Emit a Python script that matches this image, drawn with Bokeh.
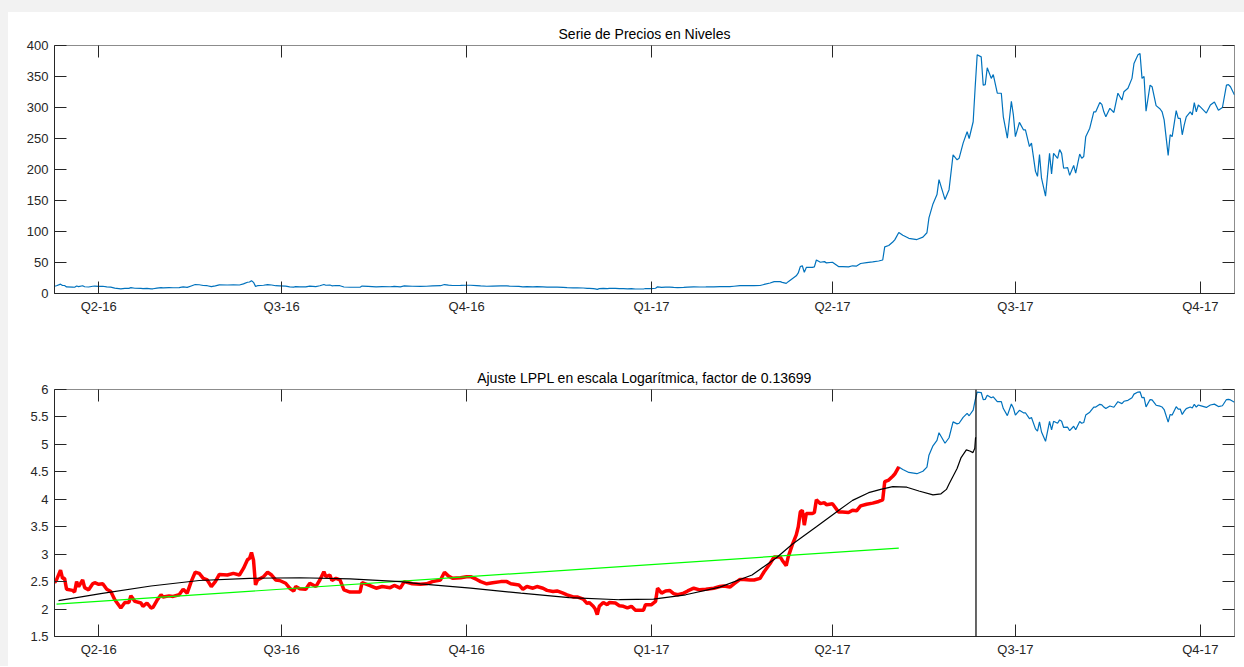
import numpy as np
import pandas as pd
from bokeh.plotting import figure
from bokeh.layouts import column
from bokeh.models import Range1d, FixedTicker, LinearAxis, Span, CustomJSTickFormatter
from bokeh.embed import file_html
from bokeh.resources import INLINE

BASE_DATE = "2016-04-01"   # day 0 of every *_days list below

# ---- fitted window: natural log of price (red) ----
fit_days = [-22, -21, -19, -18, -17, -16, -13, -12, -11, -10,
            -8, -7, -5, -3, -2, 0, 2, 4, 6, 8,
            11, 13, 15, 16, 18, 21, 22, 24, 26, 27,
            29, 31, 32, 35, 37, 40, 42, 44, 46, 48,
            50, 52, 54, 56, 58, 60, 64, 67, 70, 72,
            74, 75, 76, 77, 78, 79, 82, 84, 86, 88,
            90, 93, 95, 97, 98, 100, 103, 105, 108, 110,
            112, 113, 115, 116, 118, 120, 122, 125, 130, 131,
            134, 138, 141, 145, 147, 150, 152, 156, 160, 163,
            166, 170, 172, 174, 176, 180, 183, 185, 188, 190,
            193, 196, 200, 203, 205, 209, 211, 213, 216, 218,
            221, 223, 226, 228, 231, 233, 236, 238, 241, 243,
            244, 246, 247, 248, 249, 251, 253, 254, 257, 259,
            261, 263, 265, 267, 269, 271, 272, 275, 277, 278,
            280, 282, 284, 286, 288, 291, 293, 296, 299, 302,
            306, 309, 311, 314, 316, 319, 321, 324, 326, 329,
            331, 334, 336, 339, 340, 342, 343, 345, 347, 348,
            349, 350, 351, 352, 355, 356, 357, 359, 361, 362,
            365, 368, 370, 373, 375, 377, 379, 382, 385, 388,
            390, 391, 393, 395, 396, 398]
fit_logp = [2.48, 2.53, 2.71, 2.56, 2.56, 2.36, 2.34, 2.31, 2.50, 2.41,
            2.53, 2.39, 2.35, 2.46, 2.48, 2.45, 2.46, 2.36, 2.32, 2.17,
            2.02, 2.12, 2.12, 2.24, 2.14, 2.11, 2.05, 2.11, 2.02, 2.03,
            2.16, 2.26, 2.22, 2.24, 2.23, 2.26, 2.36, 2.29, 2.50, 2.67,
            2.65, 2.56, 2.53, 2.41, 2.50, 2.63, 2.62, 2.65, 2.62, 2.74,
            2.90, 2.92, 3.03, 2.89, 2.44, 2.53, 2.59, 2.67, 2.62, 2.53,
            2.52, 2.47, 2.38, 2.33, 2.41, 2.37, 2.36, 2.47, 2.41, 2.53,
            2.68, 2.59, 2.62, 2.52, 2.56, 2.53, 2.35, 2.31, 2.31, 2.48,
            2.44, 2.38, 2.41, 2.39, 2.43, 2.38, 2.50, 2.46, 2.45, 2.46,
            2.50, 2.53, 2.67, 2.60, 2.56, 2.57, 2.59, 2.59, 2.54, 2.50,
            2.46, 2.48, 2.50, 2.50, 2.46, 2.44, 2.36, 2.41, 2.38, 2.41,
            2.38, 2.34, 2.32, 2.33, 2.29, 2.26, 2.22, 2.22, 2.18, 2.10,
            2.12, 2.05, 2.00, 1.90, 2.05, 2.12, 2.08, 2.12, 2.11, 2.06,
            2.05, 2.02, 2.05, 1.98, 1.98, 1.98, 2.08, 2.08, 2.14, 2.38,
            2.29, 2.33, 2.34, 2.28, 2.26, 2.29, 2.33, 2.38, 2.35, 2.36,
            2.38, 2.41, 2.42, 2.40, 2.46, 2.54, 2.54, 2.53, 2.53, 2.56,
            2.68, 2.83, 2.95, 2.95, 2.89, 2.79, 2.95, 3.17, 3.35, 3.50,
            3.77, 3.80, 3.53, 3.74, 3.74, 3.76, 3.99, 3.92, 3.94, 3.90,
            3.92, 3.77, 3.77, 3.76, 3.80, 3.79, 3.88, 3.91, 3.93, 3.96,
            3.99, 4.32, 4.35, 4.42, 4.46, 4.59]

# ---- after the window: price level ----
late_days = [400, 403, 407, 410, 412, 413, 415, 417, 418, 421,
             423, 425, 427, 428, 430, 432, 433, 435, 436, 437,
             439, 440, 441, 442, 444, 445, 447, 449, 450, 452,
             454, 455, 456, 458, 460, 461, 463, 464, 466, 467,
             468, 469, 471, 473, 474, 475, 477, 478, 479, 480,
             482, 483, 485, 486, 488, 489, 490, 491, 493, 495,
             496, 498, 499, 500, 501, 503, 505, 507, 509, 510,
             512, 514, 515, 517, 518, 519, 520, 521, 523, 524,
             526, 528, 529, 530, 532, 533, 534, 536, 537, 538,
             539, 540, 541, 543, 544, 545, 546, 547, 548, 551,
             553, 555, 557, 559, 561, 562, 563, 565]
late_price = [94, 89, 87, 91, 98, 122, 144.5, 159.5, 183.6, 151.5,
              167.5, 223.7, 215.7, 218, 242.5, 261, 250, 277, 333, 385,
              381.7, 336, 337, 364, 347, 353, 323, 323, 285, 250.5,
              310, 288, 253, 276, 264, 264, 237, 242.5, 197, 189,
              224, 186, 157, 226, 193, 226, 218, 232, 226, 202,
              203, 190.5, 206.6, 194, 225, 218, 221, 253, 266.6, 293,
              293, 308, 305, 293, 285, 298.7, 292, 323, 312, 325.5,
              331, 347, 371, 385, 387, 347, 350, 294, 336, 333.5,
              303, 297.6, 293, 280, 222.7, 256, 253, 295, 282.6, 282.6,
              256, 272, 285, 293, 288, 308, 293, 304, 301, 291,
              304, 309, 295.5, 300, 336, 337, 333.5, 320]

# ---- LPPL fit (black) and linear trend (green), log scale ----
lppl_days = [-20, 1, 26, 50, 75, 100, 125, 150, 160, 185,
             210, 234, 259, 276, 292, 309, 325, 337, 345, 357,
             367, 375, 383, 389, 395, 402, 408, 415, 419, 421.7,
             423, 427, 429, 431.6, 433.3, 434.9, 435.8, 436.2]
lppl_vals = [2.155, 2.28, 2.42, 2.52, 2.56, 2.57, 2.55, 2.50, 2.46, 2.38,
             2.29, 2.21, 2.17, 2.18, 2.26, 2.40, 2.62, 2.93, 3.18, 3.50,
             3.77, 3.98, 4.12, 4.18, 4.23, 4.22, 4.15, 4.08, 4.10, 4.18,
             4.28, 4.56, 4.76, 4.90, 4.88, 4.85, 4.93, 5.13]
trend_days = [-21, 398]
trend_vals = [2.09, 3.11]
critical_day = 436.4

quarter_dates = ["2016-04-01", "2016-07-01", "2016-10-01", "2017-01-01",
                 "2017-04-01", "2017-07-01", "2017-10-01"]
quarter_labels = ["Q2-16", "Q3-16", "Q4-16", "Q1-17", "Q2-17", "Q3-17", "Q4-17"]
price_ticks = [0, 50, 100, 150, 200, 250, 300, 350, 400]
log_ticks = [1.5, 2, 2.5, 3, 3.5, 4, 4.5, 5, 5.5, 6]

title_top = "Serie de Precios en Niveles"
title_bottom = "Ajuste LPPL en escala Logarítmica, factor de 0.13699"

# ---------------------------------------------------------------
base_ms = pd.Timestamp(BASE_DATE).value / 1e6
def to_ms(days):
    return base_ms + np.asarray(days, dtype=float) * 86400000.0

fit_x = to_ms(fit_days)
late_x = to_ms(late_days)
all_x = np.concatenate([fit_x, late_x])
all_price = np.concatenate([np.exp(fit_logp), np.asarray(late_price, float)])
all_logp = np.log(all_price)

q_ms = [int(pd.Timestamp(d).value // 10**6) for d in quarter_dates]
q_over = {m: l for m, l in zip(q_ms, quarter_labels)}

FONT = "Liberation Sans"
DARK = "#262626"
BLUE = "#0072BD"

x_range = Range1d(all_x.min(), all_x.max())

def add_axes(p, yticks, yfmt):
    blank = CustomJSTickFormatter(code="return ''")
    specs = [("below", q_ms, q_over, True), ("left", yticks, yfmt, True),
             ("above", q_ms, None, False), ("right", yticks, None, False)]
    for loc, ticks, over, show in specs:
        ax = LinearAxis(ticker=FixedTicker(ticks=ticks, minor_ticks=[]))
        ax.major_tick_in = 12
        ax.major_tick_out = 0
        ax.minor_tick_in = 0
        ax.minor_tick_out = 0
        ax.major_tick_line_color = DARK
        ax.major_tick_line_width = 1
        if show:
            ax.major_label_overrides = over
            ax.major_label_text_font = FONT
            ax.major_label_text_font_size = "13px"
            ax.major_label_text_color = DARK
            ax.major_label_standoff = 5 if loc == "below" else 6
            ax.axis_line_color = DARK
        else:
            ax.formatter = blank
            ax.major_label_text_font_size = "0px"
            ax.major_label_standoff = 0
            ax.axis_line_color = None
        p.add_layout(ax, loc)

def make_fig(height, top, bottom, y_range, title, standoff):
    p = figure(width=1236, height=height, x_range=x_range, y_range=y_range,
               output_backend="svg", toolbar_location=None,
               x_axis_location=None, y_axis_location=None,
               min_border_left=46, min_border_right=10,
               min_border_top=top, min_border_bottom=bottom)
    p.xgrid.visible = False
    p.ygrid.visible = False
    p.title.text = title
    p.title.align = "center"
    p.title.text_font = FONT
    p.title.text_font_size = "14px"
    p.title.text_font_style = "normal"
    p.title.text_color = "black"
    p.title.standoff = standoff
    p.outline_line_color = "#8c8c8c"
    p.outline_line_width = 1
    p.background_fill_color = "white"
    p.border_fill_color = "white"
    return p

price_over = {t: str(t) for t in price_ticks}
log_over = {t: f"{t:g}" for t in log_ticks}

p1 = make_fig(340, 33, 59, Range1d(0, 400), title_top, 7)
add_axes(p1, price_ticks, price_over)
p1.line(all_x, all_price, line_color=BLUE, line_width=1.2)

p2 = make_fig(314, 37, 30, Range1d(1.5, 6), title_bottom, 8)
add_axes(p2, log_ticks, log_over)
p2.line(all_x, all_logp, line_color=BLUE, line_width=1.2)
p2.line(fit_x, fit_logp, line_color="#FF0000", line_width=3.5)
p2.line(to_ms(trend_days), trend_vals, line_color="#00FF00", line_width=1.2)
p2.line(to_ms(lppl_days), lppl_vals, line_color="black", line_width=1.2)
p2.add_layout(Span(location=float(to_ms([critical_day])[0]), dimension="height",
                   line_color="black", line_width=1.2))

layout = column(p1, p2, spacing=0,
                styles={"background-color": "white",
                        "border-left": "8px solid #f2f2f2",
                        "border-top": "12px solid #f2f2f2"})
open("out.html", "w").write(file_html(layout, INLINE))
